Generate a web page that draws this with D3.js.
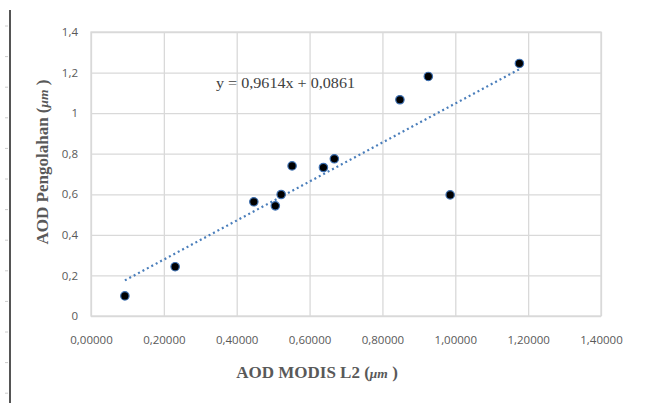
<!DOCTYPE html>
<html><head><meta charset="utf-8">
<script src="https://cdn.jsdelivr.net/npm/d3@7"></script>
<style>body{margin:0;background:#fff}</style>
</head><body>
<svg id="c" width="645" height="403"></svg>
<script>
const xValues = [0.093, 0.231, 0.447, 0.506, 0.522, 0.552, 0.638, 0.668, 0.848, 0.926, 0.986, 1.176];
const yValues = [0.099, 0.243, 0.563, 0.543, 0.599, 0.740, 0.732, 0.775, 1.066, 1.181, 0.597, 1.245];
const xTicks = [0, 0.2, 0.4, 0.6, 0.8, 1.0, 1.2, 1.4];
const yTicks = [0, 0.2, 0.4, 0.6, 0.8, 1.0, 1.2, 1.4];
const slope = 0.9614, intercept = 0.0861;
const eqLabel = "y = 0,9614x + 0,0861";

const svg = d3.select("#c");
const L = 91, R = 601, T = 32, B = 316;
const x = d3.scaleLinear().domain([0, 1.4]).range([L, R]);
const y = d3.scaleLinear().domain([0, 1.4]).range([B, T]);

// page margin line and ruler ticks
svg.append("line").attr("x1", 10).attr("x2", 10).attr("y1", 10).attr("y2", 403)
  .attr("stroke", "#555").attr("stroke-width", 2);
d3.range(26, 403, 30.6).forEach(v => {
  svg.append("line").attr("x1", 5).attr("x2", 8).attr("y1", v).attr("y2", v)
    .attr("stroke", "#ccc").attr("stroke-width", 1);
});

const fmtY = d => d === 0 ? "0" : (d === 1 ? "1" : d3.format(".1f")(d).replace(".", ","));
const fmtX = d => d3.format(".5f")(d).replace(".", ",");

// gridlines
const gx = svg.append("g").attr("transform", `translate(0,${B})`)
  .call(d3.axisBottom(x).tickValues(xTicks).tickSize(-(B - T)).tickFormat(fmtX).tickPadding(20));
const gy = svg.append("g").attr("transform", `translate(${L},0)`)
  .call(d3.axisLeft(y).tickValues(yTicks).tickSize(-(R - L)).tickFormat(fmtY).tickPadding(13));
[gx, gy].forEach(g => {
  g.select(".domain").remove();
  g.selectAll(".tick line").attr("stroke", "#d9d9d9").attr("stroke-width", 1.3);
  g.selectAll(".tick text").attr("fill", "#595959")
    .style("font-family", "'Open Sans', 'Liberation Sans', sans-serif").style("font-size", "11.5px");
});
// border
svg.append("rect").attr("x", L).attr("y", T).attr("width", R - L).attr("height", B - T)
  .attr("fill", "none").attr("stroke", "#d9d9d9").attr("stroke-width", 1.3);

// trendline
const xmin = d3.min(xValues), xmax = d3.max(xValues);
svg.append("line")
  .attr("x1", x(xmin)).attr("y1", y(slope * xmin + intercept))
  .attr("x2", x(xmax)).attr("y2", y(slope * xmax + intercept))
  .attr("stroke", "#4a7ebb").attr("stroke-width", 2.2).attr("stroke-dasharray", "2,3");

// points
svg.append("g").selectAll("circle").data(xValues).join("circle")
  .attr("cx", (d) => x(d)).attr("cy", (d, i) => y(yValues[i])).attr("r", 4.2)
  .attr("fill", "#000").attr("stroke", "#3d6fb0").attr("stroke-width", 1.2);

// equation
svg.append("text").attr("x", 216).attr("y", 88).text(eqLabel)
  .attr("fill", "#404040").style("font-family", "'Liberation Serif', serif").style("font-size", "14px")
  .attr("textLength", 139).attr("lengthAdjust", "spacingAndGlyphs");

// axis titles
const yt = svg.append("text").attr("transform", "translate(48,162) rotate(-90)")
  .attr("text-anchor", "middle").attr("fill", "#595959")
  .style("font-family", "'Liberation Serif', serif").style("font-size", "17px").style("font-weight", "bold");
yt.append("tspan").text("AOD Pengolahan (");
yt.append("tspan").text("μm").style("font-style", "italic").style("font-size", "13.5px");
yt.append("tspan").text(" )");

const xt = svg.append("text").attr("x", 317).attr("y", 378)
  .attr("text-anchor", "middle").attr("fill", "#595959")
  .style("font-family", "'Liberation Serif', serif").style("font-size", "17px").style("font-weight", "bold");
xt.append("tspan").text("AOD MODIS L2 (");
xt.append("tspan").text("μm").style("font-style", "italic").style("font-size", "13.5px");
xt.append("tspan").text(" )");
</script>
</body></html>
